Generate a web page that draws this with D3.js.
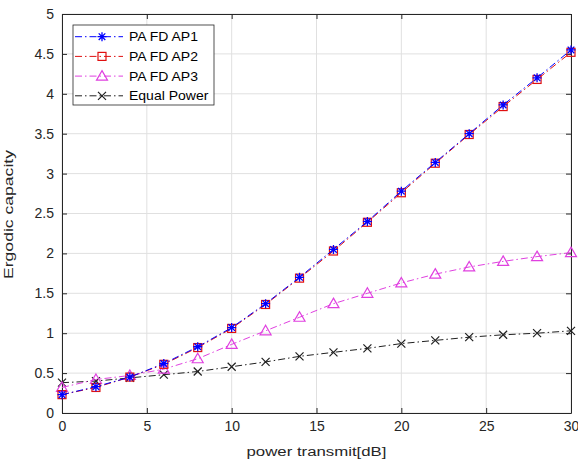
<!DOCTYPE html>
<html>
<head>
<script src="https://d3js.org/d3.v7.min.js"></script>
<style>
  body { margin: 0; background: #fff; }
  text { font-family: "Liberation Sans", Arial, sans-serif; }
</style>
</head>
<body>
<script>
  // data
  let powerDb = [0, 2, 4, 6, 8, 10, 12, 14, 16, 18, 20, 22, 24, 26, 28, 30];
  let ap1 = [0.23, 0.33, 0.45, 0.62, 0.83, 1.07, 1.37, 1.70, 2.05, 2.40, 2.78, 3.14, 3.50, 3.86, 4.20, 4.55];
  let ap2 = [0.23, 0.32, 0.45, 0.61, 0.82, 1.06, 1.36, 1.69, 2.03, 2.39, 2.76, 3.13, 3.49, 3.84, 4.18, 4.52];
  let ap3 = [0.32, 0.42, 0.47, 0.55, 0.68, 0.86, 1.03, 1.20, 1.37, 1.50, 1.63, 1.74, 1.83, 1.90, 1.96, 2.01];
  let equalPower = [0.38, 0.40, 0.44, 0.48, 0.52, 0.58, 0.64, 0.71, 0.76, 0.81, 0.87, 0.91, 0.95, 0.98, 1.00, 1.03];
  let seriesNames = ['PA FD AP1', 'PA FD AP2', 'PA FD AP3', 'Equal Power'];
  let xTicks = [0, 5, 10, 15, 20, 25, 30];
  let yTicks = [0, 0.5, 1, 1.5, 2, 2.5, 3, 3.5, 4, 4.5, 5];

  let [width, height] = [578, 463];
  let margin = { left: 62, right: 7, top: 14, bottom: 50 };

  let svg = d3.select('body').append('svg').attr('width', width).attr('height', height);

  let x = d3.scaleLinear().domain([0, 30]).range([margin.left, width - margin.right]);
  let y = d3.scaleLinear().domain([0, 5]).range([height - margin.bottom, margin.top]);

  // grid
  let grid = svg.append('g').attr('stroke', '#e0e0e0').attr('stroke-width', 1);
  grid.selectAll('.gx').data(xTicks).enter().append('line')
    .attr('x1', d => x(d)).attr('x2', d => x(d))
    .attr('y1', y(0)).attr('y2', y(5));
  grid.selectAll('.gy').data(yTicks).enter().append('line')
    .attr('x1', x(0)).attr('x2', x(30))
    .attr('y1', d => y(d)).attr('y2', d => y(d));

  // axes
  let axisColor = '#262626';
  let axBottom = svg.append('g').attr('transform', `translate(0, ${y(0)})`)
    .call(d3.axisBottom(x).tickValues(xTicks).tickSizeInner(-5).tickSizeOuter(0).tickPadding(8));
  let axTop = svg.append('g').attr('transform', `translate(0, ${y(5)})`)
    .call(d3.axisTop(x).tickValues(xTicks).tickSizeInner(-5).tickSizeOuter(0).tickFormat(''));
  let axLeft = svg.append('g').attr('transform', `translate(${x(0)}, 0)`)
    .call(d3.axisLeft(y).tickValues(yTicks).tickSizeInner(-5).tickSizeOuter(0).tickPadding(8).tickFormat(d3.format('')));
  let axRight = svg.append('g').attr('transform', `translate(${x(30)}, 0)`)
    .call(d3.axisRight(y).tickValues(yTicks).tickSizeInner(-5).tickSizeOuter(0).tickFormat(''));
  [axBottom, axTop, axLeft, axRight].forEach(g => {
    g.selectAll('path').attr('stroke', axisColor);
    g.selectAll('line').attr('stroke', axisColor);
    g.selectAll('text').attr('fill', axisColor).style('font-size', '14px');
  });

  svg.append('text')
    .attr('x', (x(0) + x(30)) / 2).attr('y', 456)
    .attr('text-anchor', 'middle').attr('fill', axisColor).style('font-size', '12.5px')
    .attr('textLength', 140).attr('lengthAdjust', 'spacingAndGlyphs')
    .text('power transmit[dB]');
  svg.append('text')
    .attr('transform', `translate(13, ${(y(0) + y(5)) / 2 + 1}) rotate(-90)`)
    .attr('text-anchor', 'middle').attr('fill', axisColor).style('font-size', '12.5px')
    .attr('textLength', 129).attr('lengthAdjust', 'spacingAndGlyphs')
    .text('Ergodic capacity');

  // series
  let series = [
    { name: seriesNames[0], values: ap1, color: '#0000ff', marker: 'star' },
    { name: seriesNames[1], values: ap2, color: '#e01010', marker: 'square' },
    { name: seriesNames[2], values: ap3, color: '#e040e0', marker: 'triangle' },
    { name: seriesNames[3], values: equalPower, color: '#202020', marker: 'cross' }
  ];

  function drawMarker(g, type, color) {
    if (type === 'star') {
      g.append('path').attr('d', 'M-4.5,0H4.5M0,-4.5V4.5M-3.3,-3.3L3.3,3.3M-3.3,3.3L3.3,-3.3')
        .attr('stroke', color).attr('stroke-width', 1.3).attr('fill', 'none');
    } else if (type === 'square') {
      g.append('rect').attr('x', -4).attr('y', -4).attr('width', 8).attr('height', 8)
        .attr('stroke', color).attr('stroke-width', 1.2).attr('fill', 'none');
    } else if (type === 'triangle') {
      g.append('path').attr('d', 'M0,-5.5L5.5,4L-5.5,4Z')
        .attr('stroke', color).attr('stroke-width', 1.2).attr('fill', 'none');
    } else {
      g.append('path').attr('d', 'M-4,-4L4,4M-4,4L4,-4')
        .attr('stroke', color).attr('stroke-width', 1.2).attr('fill', 'none');
    }
  }

  let line = d3.line().x((d, i) => x(powerDb[i])).y(d => y(d));

  // draw in reverse so AP1 ends on top
  series.slice().reverse().forEach(s => {
    svg.append('path').datum(s.values)
      .attr('d', line)
      .attr('fill', 'none')
      .attr('stroke', s.color)
      .attr('stroke-width', 1)
      .attr('stroke-dasharray', '7,3,1.5,3');
    s.values.forEach((v, i) => {
      let g = svg.append('g').attr('transform', `translate(${x(powerDb[i])}, ${y(v)})`);
      drawMarker(g, s.marker, s.color);
    });
  });

  // legend
  let legend = svg.append('g').attr('transform', 'translate(73, 25)');
  legend.append('rect').attr('width', 141).attr('height', 80)
    .attr('fill', '#fff').attr('stroke', axisColor).attr('stroke-width', 0.8);
  series.forEach((s, i) => {
    let ly = 11.7 + i * 19.7;
    legend.append('line').attr('x1', 2).attr('x2', 50).attr('y1', ly).attr('y2', ly)
      .attr('stroke', s.color).attr('stroke-width', 1).attr('stroke-dasharray', '7,3,1.5,3');
    let g = legend.append('g').attr('transform', `translate(29, ${ly})`);
    drawMarker(g, s.marker, s.color);
    legend.append('text')
      .attr('transform', `translate(56, ${ly + 4.5}) scale(1.12, 1)`)
      .attr('fill', '#000').style('font-size', '12.5px').text(s.name);
  });
</script>
</body>
</html>
